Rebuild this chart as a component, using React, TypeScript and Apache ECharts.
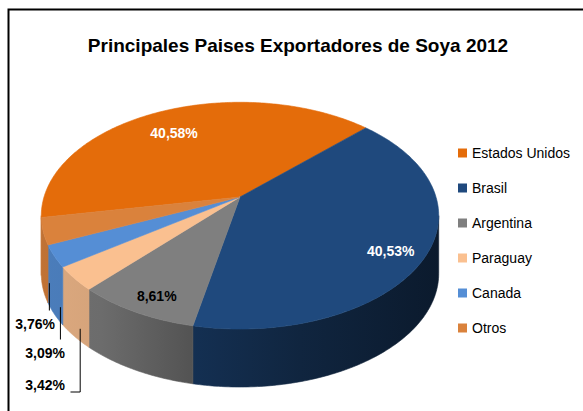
import React, { useEffect, useRef } from "react";
import * as echarts from "echarts";

// ---------- data ----------
const categories = ["Estados Unidos", "Brasil", "Argentina", "Paraguay", "Canada", "Otros"];
const shares = [40.58, 40.53, 8.61, 3.42, 3.09, 3.76];
const chartTitle = "Principales Paises Exportadores de Soya 2012";

// ---------- styles ----------
const sliceColors = ["#E46C0A", "#1F497D", "#7F7F7F", "#FAC090", "#558ED5", "#DA823C"];
const insideLabelColors = ["#FFFFFF", "#FFFFFF", "#000000", "#000000", "#000000", "#000000"];
const outsideSlots = [
  { right: 55, y: 324 },
  { right: 65, y: 353 },
  { right: 65, y: 385 },
];

// ---------- 3D pie geometry (layout) ----------
const CX = 240;
const CY = 197;
const RX = 196;
const SY = 110.3;
const PERSP = 0.1645;
const DEPTH = 58;
const START = 259.6; // first slice angle, degrees clockwise from 12 o'clock
const SIL0 = 90 + (Math.asin(PERSP) * 180) / Math.PI;
const SIL1 = 360 - SIL0;

const total = shares.reduce((a, b) => a + b, 0);
const cum: number[] = [];
shares.reduce((acc, v, i) => {
  cum[i] = acc;
  return acc + v;
}, 0);

function fmt(v: number) {
  return v.toFixed(2).replace(".", ",") + "%";
}

function proj(deg: number, r: number): [number, number] {
  const a = (deg * Math.PI) / 180;
  const X = r * Math.sin(a);
  const Z = r * Math.cos(a);
  const w = 1 + PERSP * Z;
  return [CX + (RX * X) / w, CY - (SY * Z) / w];
}

function arc(a0: number, a1: number, r: number, dy: number) {
  const n = Math.max(2, Math.ceil(Math.abs(a1 - a0) / 0.8));
  const pts: number[][] = [];
  for (let j = 0; j <= n; j++) {
    const a = a0 + ((a1 - a0) * j) / n;
    const p = proj(a, r);
    pts.push([p[0], p[1] + dy]);
  }
  return pts;
}

function shade(hex: string, f: number) {
  const n = parseInt(hex.slice(1), 16);
  const r = Math.round(((n >> 16) & 255) * f);
  const g = Math.round(((n >> 8) & 255) * f);
  const b = Math.round((n & 255) * f);
  return `rgb(${r},${g},${b})`;
}

function sideFill(hex: string) {
  return new echarts.graphic.LinearGradient(
    42,
    0,
    440,
    0,
    [
      { offset: 0, color: shade(hex, 0.88) },
      { offset: 0.15, color: shade(hex, 0.85) },
      { offset: 0.37, color: shade(hex, 0.66) },
      { offset: 0.65, color: shade(hex, 0.5) },
      { offset: 1, color: shade(hex, 0.36) },
    ],
    true
  );
}

function sliceAngles(i: number, v: number) {
  const a0 = START + (cum[i] / total) * 360;
  const a1 = a0 + (v / total) * 360;
  return [a0, a1];
}

// order of small (outside-labelled) slices: by mid angle, descending
const smallOrder = shares
  .map((v, i) => ({ i, v, mid: sliceAngles(i, v).reduce((a, b) => a + b) / 2 }))
  .filter((d) => d.v / total < 0.05)
  .sort((a, b) => b.mid - a.mid)
  .map((d) => d.i);

const LABEL_FONT = 'bold 14px "Liberation Sans", Arial, sans-serif';

export default function App() {
  const ref = useRef<HTMLDivElement>(null);
  useEffect(() => {
    if (!ref.current) return;
    const chart = echarts.init(ref.current, undefined, { renderer: "svg" });
    chart.setOption({
      animation: false,
      backgroundColor: "#FFFFFF",
      graphic: [
        {
          type: "rect",
          silent: true,
          z: -10,
          shape: { x: 8.5, y: 9.5, width: 700, height: 500 },
          style: { fill: "none", stroke: "#000", lineWidth: 2 },
        },
        {
          type: "text",
          x: 298,
          y: 45,
          style: {
            text: chartTitle,
            font: 'bold 19px "Liberation Sans", Arial, sans-serif',
            fill: "#000",
            align: "center",
            verticalAlign: "middle",
          },
        },
      ],
      legend: {
        orient: "vertical",
        left: 453,
        top: 140,
        itemWidth: 9,
        itemHeight: 9,
        itemGap: 19,
        icon: "rect",
        selectedMode: false,
        data: categories,
        textStyle: {
          fontFamily: "Liberation Sans",
          fontSize: 14,
          lineHeight: 16,
          color: "#000",
        },
      },
      series: [
        {
          // provides legend entries only
          type: "pie",
          name: "legend",
          center: [-300, -300],
          radius: 5,
          silent: true,
          label: { show: false },
          labelLine: { show: false },
          data: categories.map((n, i) => ({
            name: n,
            value: shares[i],
            itemStyle: { color: sliceColors[i] },
          })),
        },
        {
          type: "custom",
          name: "sides",
          coordinateSystem: "none",
          z: 2,
          silent: true,
          data: shares.map((v) => [v]),
          renderItem: (params: any, api: any) => {
            const i = params.dataIndex;
            const v = api.value(0);
            const [a0, a1] = sliceAngles(i, v);
            const children: any[] = [];
            for (const off of [0, 360, -360]) {
              const b0 = Math.max(a0, SIL0 + off);
              const b1 = Math.min(a1, SIL1 + off);
              if (b1 > b0) {
                const top = arc(b0, b1, 1, 0);
                const bot = arc(b1, b0, 1, DEPTH);
                const fill = sideFill(sliceColors[i]);
                children.push({
                  type: "polygon",
                  shape: { points: top.concat(bot) },
                  style: { fill, stroke: fill, lineWidth: 0.6 },
                });
              }
            }
            return { type: "group", children };
          },
        },
        {
          type: "custom",
          name: "tops",
          coordinateSystem: "none",
          z: 3,
          silent: true,
          data: shares.map((v) => [v]),
          renderItem: (params: any, api: any) => {
            const i = params.dataIndex;
            const v = api.value(0);
            const [a0, a1] = sliceAngles(i, v);
            const mid = (a0 + a1) / 2;
            const pts = [proj(0, 0) as number[]].concat(arc(a0, a1, 1, 0));
            const children: any[] = [
              {
                type: "polygon",
                shape: { points: pts },
                style: { fill: sliceColors[i], stroke: sliceColors[i], lineWidth: 0.6 },
              },
            ];
            if (v / total >= 0.05) {
              const [lx, ly] = proj(mid, 0.82);
              children.push({
                type: "text",
                x: lx,
                y: ly + 8,
                z2: 10,
                style: {
                  text: fmt(v),
                  font: LABEL_FONT,
                  fill: insideLabelColors[i],
                  align: "center",
                  verticalAlign: "middle",
                },
              });
            } else {
              const slot = outsideSlots[smallOrder.indexOf(i)];
              const [ax, ty] = proj(mid, 0.97);
              const ay = ty + DEPTH - 5;
              const line =
                ax <= slot.right + 2
                  ? [
                      [ax, ay],
                      [ax, slot.y - 13.5],
                    ]
                  : [
                      [ax, ay],
                      [ax, slot.y + 7],
                      [slot.right + 5.5, slot.y + 7],
                    ];
              children.push({
                type: "polyline",
                z2: 10,
                shape: { points: line },
                style: { stroke: "#000", lineWidth: 1, fill: "none" },
              });
              children.push({
                type: "text",
                x: slot.right,
                y: slot.y,
                z2: 10,
                style: {
                  text: fmt(v),
                  font: LABEL_FONT,
                  fill: "#000",
                  align: "right",
                  verticalAlign: "middle",
                },
              });
            }
            return { type: "group", children };
          },
        },
      ],
    });
    return () => chart.dispose();
  }, []);
  return (
    <div
      ref={ref}
      style={{ position: "fixed", left: 0, top: 0, width: 583, height: 411 }}
    />
  );
}
